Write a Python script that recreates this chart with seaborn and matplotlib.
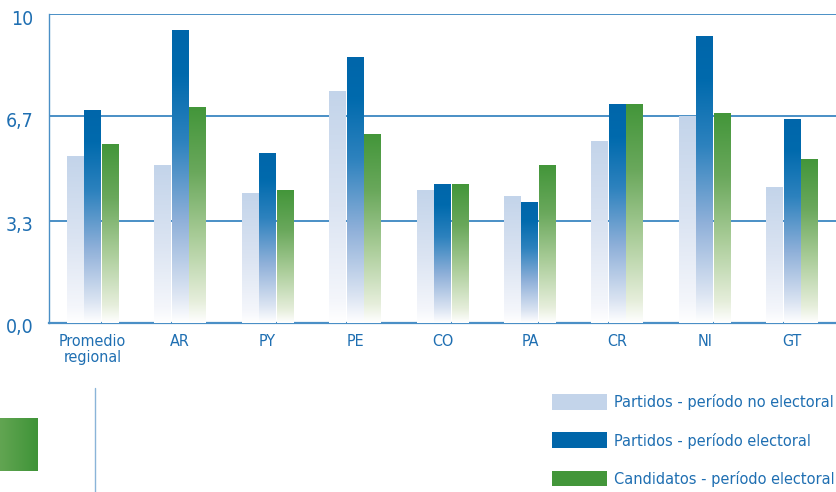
import numpy as np
import pandas as pd
import matplotlib
matplotlib.use("Agg")
import matplotlib.pyplot as plt
from matplotlib.colors import LinearSegmentedColormap
from matplotlib.patches import Patch
from matplotlib.lines import Line2D
from matplotlib.transforms import ScaledTranslation
from matplotlib import font_manager
import seaborn as sns

# Data
paises = ["Promedio\nregional", "AR", "PY", "PE", "CO", "PA", "CR", "NI", "GT"]
series = ["Partidos - período no electoral", "Partidos - período electoral",
          "Candidatos - período electoral"]
no_electoral = [5.4, 5.1, 4.2, 7.5, 4.3, 4.1, 5.9, 6.7, 4.4]
electoral = [6.9, 9.5, 5.5, 8.6, 4.5, 3.9, 7.1, 9.3, 6.6]
candidatos = [5.8, 7.0, 4.3, 6.1, 4.5, 5.1, 7.1, 6.8, 5.3]
y_ticks = [0, 3.3, 6.7, 10]
y_labels = ["0,0", "3,3", "6,7", "10"]

colores = ["#c3d4ea", "#0066aa", "#43963a"]
text_blue = "#1f6fb2"
grid_blue = "#4a8fc6"

cmaps = [
    LinearSegmentedColormap.from_list("light", [(0, "#ffffff"), (0.1, "#f4f6fb"),
                                                (0.5, "#dbe4f2"), (1, "#c3d4ea")]),
    LinearSegmentedColormap.from_list("blue", [(0, "#ffffff"), (0.1, "#dbe4f2"),
                                               (0.35, "#8fb0d9"), (0.62, "#2d82be"),
                                               (0.85, "#006aad"), (1, "#0066aa")]),
    LinearSegmentedColormap.from_list("green", [(0, "#ffffff"), (0.1, "#e6eedb"),
                                                (0.4, "#a9cc98"), (0.7, "#6aa85c"),
                                                (1, "#43963a")]),
]

df = pd.DataFrame({
    "pais": paises * 3,
    "serie": [series[0]] * 9 + [series[1]] * 9 + [series[2]] * 9,
    "valor": no_electoral + electoral + candidatos,
})

sns.set_style("white")
# condensed face if one is installed, else plain DejaVu
names = {f.name for f in font_manager.fontManager.ttflist}
if "DejaVu Sans Condensed" in names:
    plt.rcParams["font.family"] = ["DejaVu Sans Condensed", "DejaVu Sans"]
    cond = True
else:
    plt.rcParams["font.family"] = ["DejaVu Sans"]
    plt.rcParams["font.stretch"] = "condensed"
    cond = any(f.name == "DejaVu Sans" and f.stretch == "condensed"
               for f in font_manager.fontManager.ttflist)

fig = plt.figure(figsize=(8.36, 4.92), dpi=100)
ax = fig.add_axes([49 / 836, 1 - 322.7 / 492, 1 - 49 / 836, (322.7 - 14.3) / 492])

sns.barplot(data=df, x="pais", y="valor", hue="serie", palette=colores,
            width=0.6, gap=0.03, saturation=1, legend=False, ax=ax)

# replace flat fills by vertical gradients
grad = np.linspace(0, 1, 256).reshape(-1, 1)
for cont, cmap in zip(ax.containers, cmaps):
    for bar in cont:
        x0 = bar.get_x()
        w = bar.get_width()
        h = bar.get_height()
        bar.set_visible(False)
        ax.imshow(grad, extent=[x0, x0 + w, 0, h], origin="lower", cmap=cmap,
                  aspect="auto", zorder=3, interpolation="bilinear")

ax.set_xlim(-0.5, 8.5)
ax.set_ylim(0, 10)
ax.set_yticks(y_ticks)
ax.set_yticklabels(y_labels)
ax.set_xlabel("")
ax.set_ylabel("")
ax.tick_params(axis="y", length=0, pad=11, labelsize=14 if cond else 13,
               labelcolor=text_blue)
ax.tick_params(axis="x", length=0, pad=8, labelsize=11.5 if cond else 10.5,
               labelcolor=text_blue)
for lab in ax.get_xticklabels():
    lab.set_verticalalignment("top")
    lab.set_linespacing(1.1)
shift = ScaledTranslation(0, -3 / 100, fig.dpi_scale_trans)
for lab in ax.get_yticklabels():
    lab.set_transform(lab.get_transform() + shift)

for yv in y_ticks[1:]:
    ax.axhline(yv, color=grid_blue, lw=1.4, zorder=1)
for side in ["top", "right"]:
    ax.spines[side].set_visible(False)
ax.spines["bottom"].set_color(grid_blue)
ax.spines["bottom"].set_linewidth(1.6)
ax.spines["left"].set_color(grid_blue)
ax.spines["left"].set_linewidth(1.0)

# legend
handles = [Patch(facecolor=c, edgecolor="none") for c in colores]
fs = 11.7 if cond else 10
px = fs * 100 / 72
leg = fig.legend(handles, series, loc="upper left",
                 bbox_to_anchor=(552 / 836, 1 - 394 / 492), frameon=False,
                 fontsize=fs, handlelength=55 / px, handleheight=18 / px,
                 handletextpad=7 / px, labelspacing=22 / px,
                 borderpad=0, borderaxespad=0)
for t in leg.get_texts():
    t.set_color(text_blue)

# page decorations
green_grad = LinearSegmentedColormap.from_list("gdeco", ["#62a552", "#3f9438"])
deco = fig.add_axes([0, 1 - 471 / 492, 38 / 836, 53 / 492])
deco.imshow(np.linspace(0, 1, 64).reshape(1, -1), cmap=green_grad, aspect="auto")
deco.axis("off")
fig.add_artist(Line2D([95 / 836, 95 / 836], [0, 1 - 388 / 492],
                      color="#8ab4d8", lw=1.0, transform=fig.transFigure))

fig.savefig("out.png", dpi=100)
